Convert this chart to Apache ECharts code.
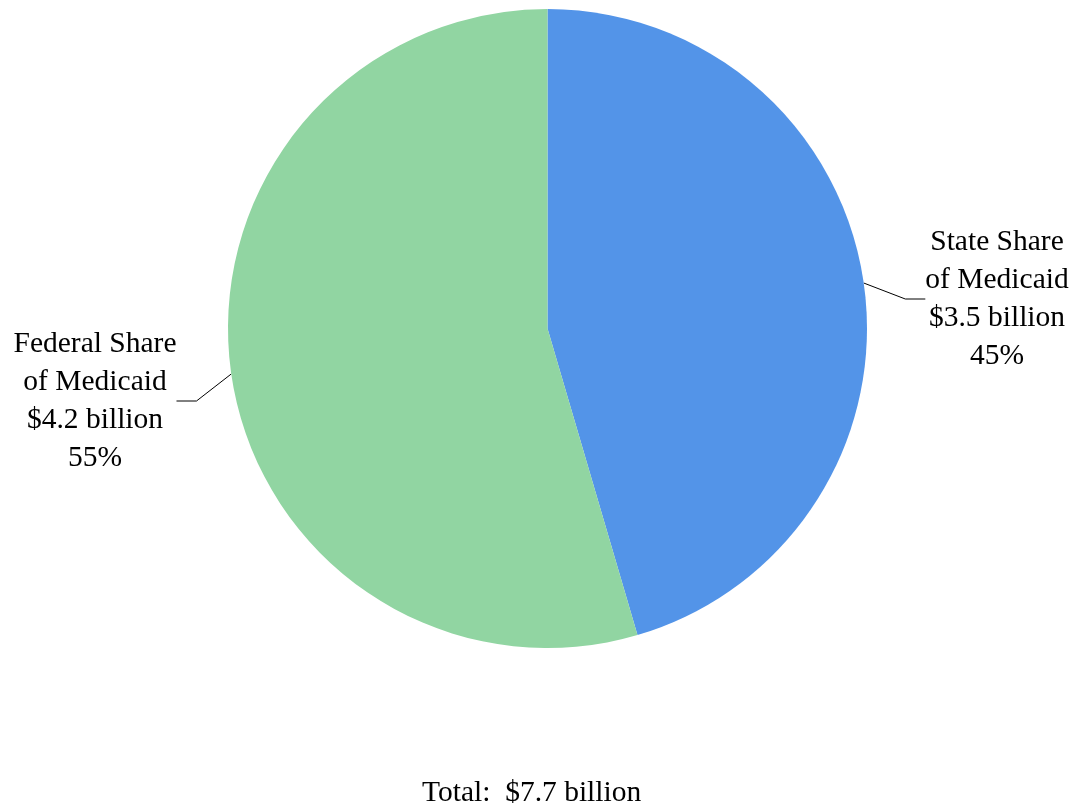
<!DOCTYPE html>
<html>
<head>
<meta charset="utf-8">
<script src="https://cdn.jsdelivr.net/npm/echarts@6/dist/echarts.min.js"></script>
<style>
  html, body { margin: 0; padding: 0; background: #fff; }
  #chart { width: 1076px; height: 809px; }
</style>
</head>
<body>
<div id="chart"></div>
<script>
// Data
const categories = ['State Share\nof Medicaid', 'Federal Share\nof Medicaid'];
const values = [3.5, 4.2];          // $ billion
const totalLabel = 'Total:  $7.7 billion';

// Styles
const colors = ['#5394E8', '#91D5A2'];
const labelCenters = [[997, 299], [95, 401]];
const FONT = '"Liberation Serif", "Times New Roman", serif';

const chart = echarts.init(document.getElementById('chart'), null, { renderer: 'canvas' });
chart.setOption({
  animation: false,
  backgroundColor: '#ffffff',
  title: {
    text: totalLabel,
    left: 417,
    top: 773,
    textStyle: { fontFamily: FONT, fontSize: 29.5, fontWeight: 'normal', color: '#000' }
  },
  series: [{
    type: 'pie',
    center: [547.5, 328.5],
    radius: 319.5,
    startAngle: 90,
    clockwise: true,
    percentPrecision: 0,
    avoidLabelOverlap: false,
    itemStyle: { borderWidth: 0 },
    data: categories.map((c, i) => ({ name: c, value: values[i], itemStyle: { color: colors[i] } })),
    label: {
      show: true,
      position: 'outside',
      formatter: p => p.name + '\n$' + p.value.toFixed(1) + ' billion\n' + p.percent + '%',
      fontFamily: FONT,
      fontSize: 29.5,
      lineHeight: 38,
      color: '#000'
    },
    labelLine: {
      show: true,
      length: 15,
      length2: 20,
      smooth: false,
      lineStyle: { color: '#000', width: 1 }
    },
    labelLayout: function (params) {
      const c = labelCenters[params.dataIndex];
      return { x: c[0], y: c[1], align: 'center', verticalAlign: 'middle' };
    }
  }]
});
</script>
</body>
</html>
